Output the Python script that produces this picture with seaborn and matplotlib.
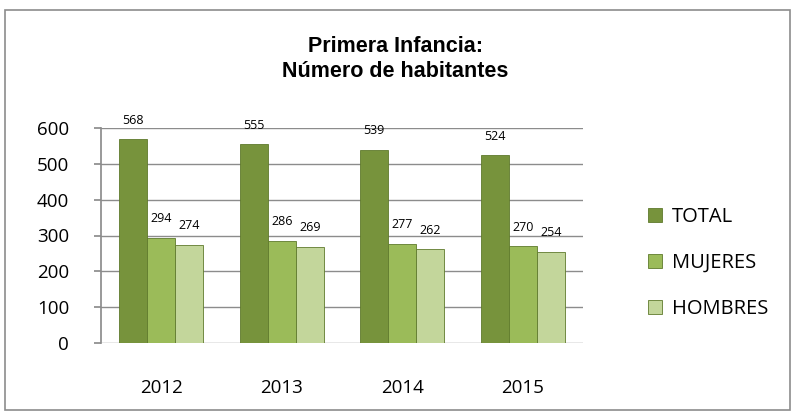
import pandas as pd
import numpy as np
import matplotlib
matplotlib.use('Agg')
import matplotlib.pyplot as plt
import seaborn as sns
from matplotlib.patches import Rectangle

# Data
years = ['2012', '2013', '2014', '2015']
total = [568, 555, 539, 524]
mujeres = [294, 286, 277, 270]
hombres = [274, 269, 262, 254]
series = ['TOTAL', 'MUJERES', 'HOMBRES']
colors = ['#77933C', '#9BBB59', '#C3D69B']

df = pd.DataFrame({
    'year': years * 3,
    'serie': ['TOTAL'] * 4 + ['MUJERES'] * 4 + ['HOMBRES'] * 4,
    'value': total + mujeres + hombres,
})

sns.set_theme(style='white')
plt.rcParams['font.family'] = ['Open Sans', 'DejaVu Sans']
plt.rcParams['text.color'] = 'black'
plt.rcParams['xtick.color'] = 'black'
plt.rcParams['ytick.color'] = 'black'

fig = plt.figure(figsize=(7.92, 4.17), dpi=100)
ax = fig.add_axes([101 / 792, 1 - 343 / 417, (583 - 101) / 792, (343 - 128) / 417])

sns.barplot(data=df, x='year', y='value', hue='serie', hue_order=series,
            palette=colors, width=0.7, ax=ax, edgecolor='#5f7a2c', linewidth=0.6,
            saturation=1)

for c in ax.containers:
    ax.bar_label(c, padding=9, fontsize=9, color='black')

ax.set_ylim(0, 600)
ax.set_yticks(range(0, 601, 100))
ax.set_xlim(-0.5, 3.5)
ax.grid(axis='y', color='#8c8c8c', linewidth=1)
ax.set_axisbelow(True)
for s in ['top', 'right', 'bottom']:
    ax.spines[s].set_visible(False)
ax.spines['left'].set_color('#8c8c8c')
ax.tick_params(axis='y', length=5, color='#8c8c8c', labelcolor='black',
               direction='out', left=True, pad=18, labelsize=13.5)
ax.tick_params(axis='x', length=0, pad=26, labelsize=13.5, labelcolor='black')
ax.set_xlabel('')
ax.set_ylabel('')

leg = ax.legend(loc='center left', bbox_to_anchor=(640 / 792, 1 - 263 / 417),
                bbox_transform=fig.transFigure, frameon=False, fontsize=14.5,
                handlelength=0.7, handleheight=0.7, handletextpad=0.5,
                labelspacing=1.3, borderaxespad=0)
for t in leg.get_texts():
    t.set_color('black')

fig.text(395 / 792, 1 - 59 / 417, 'Primera Infancia:\nNúmero de habitantes',
         ha='center', va='center', fontsize=15.5, fontweight='bold', color='black',
         family=['Liberation Sans', 'DejaVu Sans'], linespacing=1.3)

fig.patches.append(Rectangle((5 / 792, 1 - 410 / 417), 785 / 792, 400 / 417,
                             transform=fig.transFigure, fill=False,
                             edgecolor='#8c8c8c', linewidth=1.2))

fig.savefig('out.png', dpi=100)
